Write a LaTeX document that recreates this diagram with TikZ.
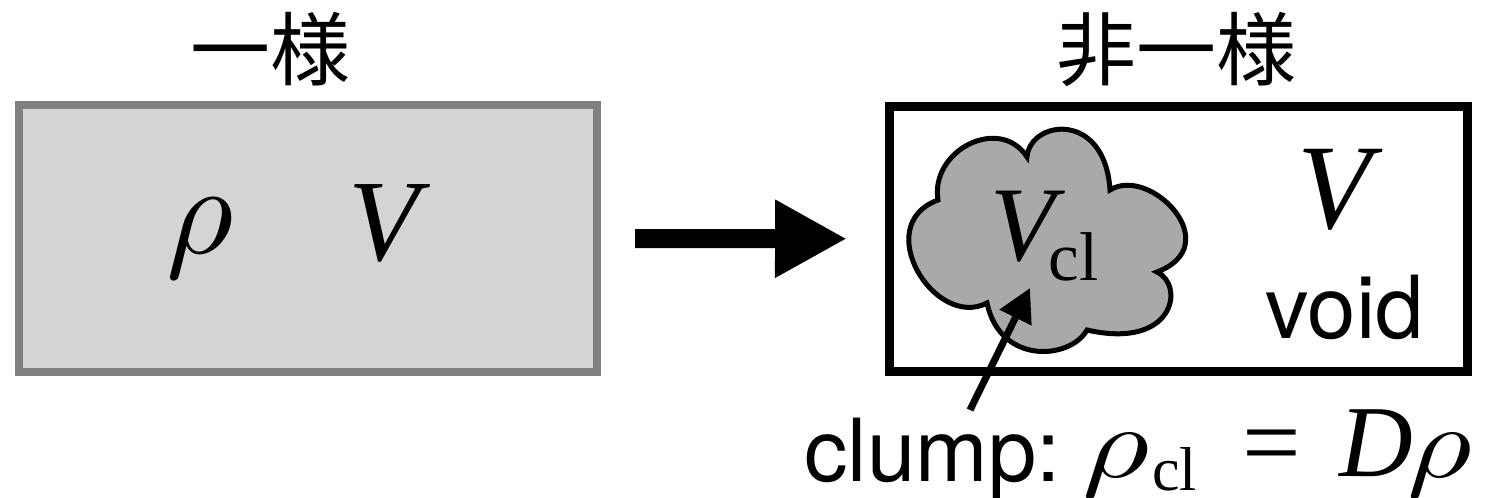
\documentclass[tikz,border=0pt]{standalone}
\usepackage{graphicx}
\usepackage{fontspec}
\setmainfont{Liberation Serif}
\newfontfamily\jpfont{Noto Sans CJK JP}
\newfontfamily\labelsans{TeX Gyre Heros}
\usetikzlibrary{arrows.meta}

\definecolor{boxgray}{HTML}{808080}
\definecolor{boxfill}{HTML}{D4D4D4}
\definecolor{cloudfill}{HTML}{A9A9A9}

% a 10pt rho scaled by #1 (width) and #2 (height)
\newcommand{\densym}[2]{\scalebox{#1}[#2]{\fontsize{10pt}{10pt}\selectfont$\rho$}}
% upright subscript "cl" of size #1, lowered by #2
\newcommand{\subcl}[2]{\raisebox{-#2}{\upshape\fontsize{#1}{#1}\selectfont cl}}

\begin{document}
\begin{tikzpicture}[x=1pt,y=-1pt,
  heading/.style={font=\jpfont\fontsize{80pt}{80pt}\selectfont, inner sep=0, anchor=base},
  sym/.style={font=\itshape\fontsize{#1}{#1}\selectfont, inner sep=0, anchor=base},
  lbl/.style={font=\labelsans\fontsize{87pt}{87pt}\selectfont, inner sep=0},
  uniformbox/.style={draw=boxgray, fill=boxfill, line width=8pt, minimum width=577.7pt,
    minimum height=266.7pt, inner sep=0, outer sep=0},
  voidbox/.style={draw=black, line width=9pt, minimum width=578pt,
    minimum height=265.5pt, inner sep=0, outer sep=0},
  cloudline/.style={draw=black, fill=cloudfill, line width=5pt},
  bigarrow/.style={line width=19pt, -{Triangle[length=72pt,width=73pt]}},
  pointer/.style={line width=7pt, -{Triangle[length=33pt,width=34pt]}}]
\useasboundingbox (0,0) rectangle (1489,498);

% uniform medium
\node[uniformbox] (uni) at (308.15,238.65) {};
\node[heading] (unititle) at (270,79) {一様};
\node[sym=116pt] (rho) at (200,253) {\densym{13}{12.8}};
\node[sym=116pt] (vol) at (384,260) {V};

% clumpy medium
\node[voidbox] (nonuni) at (1178.5,238.75) {};
\node[heading] (nonunititle) at (1176,79) {非一様};

\draw[cloudline] (938,200)
  .. controls (930,150) and (1000,115) .. (1027,157)
  .. controls (1030,120) and (1105,110) .. (1110,190)
  .. controls (1150,165) and (1228,245) .. (1157,272)
  .. controls (1185,285) and (1175,350) .. (1087,330)
  .. controls (1070,360) and (1000,365) .. (987,303)
  .. controls (935,330) and (870,225) .. (938,200) -- cycle;

\node[sym=106pt, anchor=base west] (vcl) at (990,260)
  {V\kern-6pt\subcl{69pt}{20pt}};
\node[sym=121pt] (vvoid) at (1334,228) {V};
\node[lbl, anchor=base east] (voidlbl) at (1424,338.3) {void};

% transition arrow
\draw[bigarrow] ([xshift=38pt]uni.east) -- ([xshift=-42.5pt]nonuni.west);

% clump label, its density relation and the pointer
\node[lbl, anchor=base west] (clumplbl) at (804,481.7) {clump:};
\node[sym=95pt, anchor=base west] (rhocl) at (1082,477)
  {\densym{13}{10.2}\kern3pt\subcl{62pt}{13pt}};
\node[sym=104pt, font=\upshape\fontsize{104pt}{104pt}\selectfont] (eq) at (1272,477) {=};
\node[sym=102pt] (dfac) at (1376,476) {D};
\node[sym=95pt] (rhoav) at (1440,477) {\densym{12.5}{10.2}};
\coordinate (tail) at (970,410);
\coordinate (tip) at (1030,288);
\draw[pointer] (tail) -- (tip);
\end{tikzpicture}
\end{document}
